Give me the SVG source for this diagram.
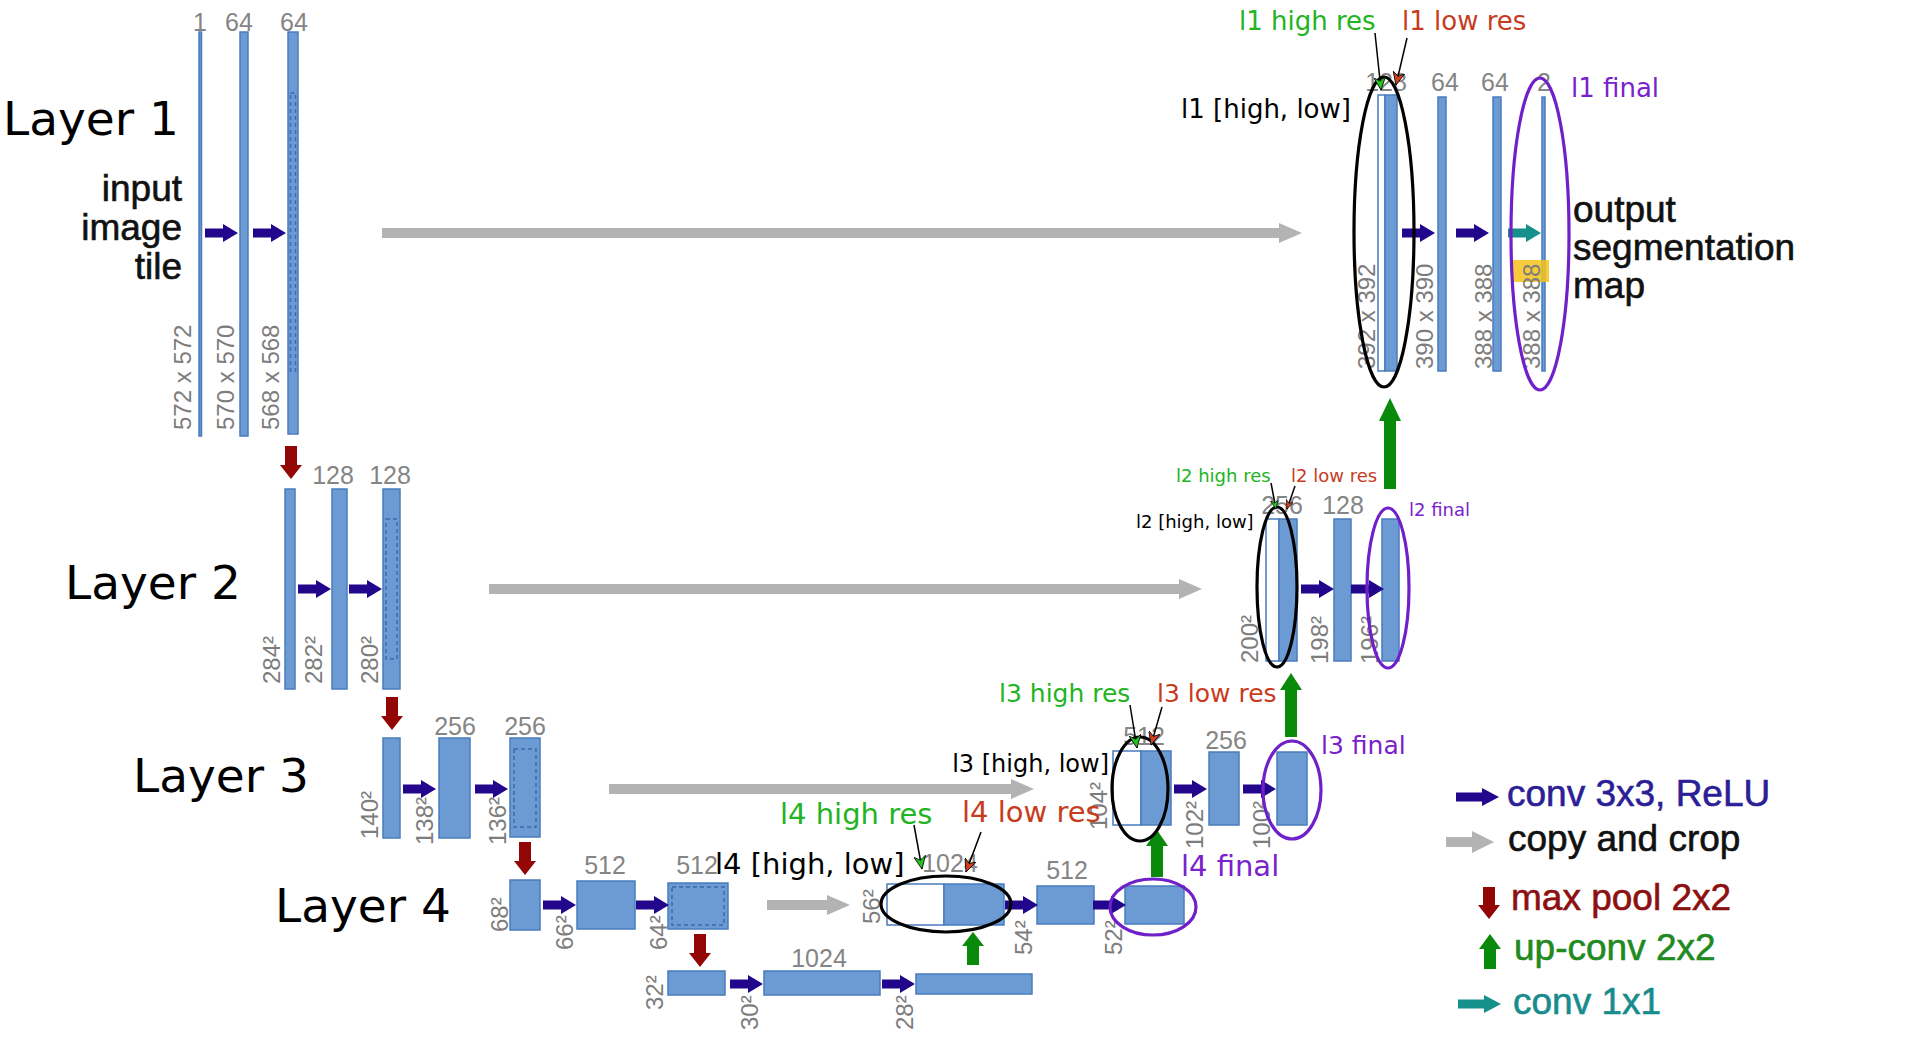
<svg xmlns="http://www.w3.org/2000/svg" xmlns:xlink="http://www.w3.org/1999/xlink" width="1908" height="1054" viewBox="0 0 1908 1054">
<style>
.bar{fill:#6b9bd2;stroke:#4a7bbd;stroke-width:1.5}
.cp{fill:#ffffff;stroke:#4a7bbd;stroke-width:1.5}
.dash{fill:none;stroke:#3d6bb0;stroke-width:1.5;stroke-dasharray:4 3}
.n{font-family:"Liberation Sans",Arial,sans-serif;font-size:25px;fill:#858585;text-anchor:middle}
.rl{font-family:"Liberation Sans",Arial,sans-serif;font-size:24px;fill:#7d7d7d}
.lay{font-family:"DejaVu Sans",sans-serif;font-size:47px;fill:#000}
.big{font-family:"Liberation Sans",Arial,sans-serif;font-size:37px;fill:#111;stroke:#111;stroke-width:0.6}
.a{font-family:"DejaVu Sans",sans-serif}
.g{fill:#22b422}.rd{fill:#c83c1e}.pu{fill:#7a22cc}.bk{fill:#000}
.conv{fill:#22068c}.gray{fill:#b3b3b3}.pool{fill:#930606}.up{fill:#0a8a0a}.teal{fill:#16908a}
.ebk{fill:none;stroke:#000;stroke-width:3.2}
.epu{fill:none;stroke:#7020c8;stroke-width:3.2}
.ptr{fill:none;stroke:#000;stroke-width:1.5}
</style>
<defs>
<path id="cv" d="M0,-4.5 H18 V-9 L33,0 L18,9 V4.5 H0 Z"/>
<path id="pl" d="M-6,0 H6 V19 H11 L0,33 L-11,19 H-6 Z"/>
<path id="upa" d="M0,0 L11,14 H6 V33 H-6 V14 H-11 Z"/>
<marker id="mg" markerUnits="userSpaceOnUse" markerWidth="14" markerHeight="12" refX="13" refY="6" orient="auto" viewBox="0 0 14 12"><path d="M0,0 L13,6 L0,12 L4,6 Z" fill="#22c422" stroke="#000" stroke-width="0.8"/></marker>
<marker id="mr" markerUnits="userSpaceOnUse" markerWidth="14" markerHeight="12" refX="13" refY="6" orient="auto" viewBox="0 0 14 12"><path d="M0,0 L13,6 L0,12 L4,6 Z" fill="#d0401e" stroke="#000" stroke-width="0.8"/></marker>
<marker id="mgs" markerUnits="userSpaceOnUse" markerWidth="10" markerHeight="8" refX="9" refY="4" orient="auto" viewBox="0 0 10 8"><path d="M0,0 L9,4 L0,8 L3,4 Z" fill="#22c422" stroke="#000" stroke-width="0.6"/></marker>
<marker id="mrs" markerUnits="userSpaceOnUse" markerWidth="10" markerHeight="8" refX="9" refY="4" orient="auto" viewBox="0 0 10 8"><path d="M0,0 L9,4 L0,8 L3,4 Z" fill="#d0401e" stroke="#000" stroke-width="0.6"/></marker>
</defs>
<rect width="1908" height="1054" fill="#fff"/>

<g id="layer-labels">
<text class="lay" x="3" y="135">Layer 1</text>
<text class="lay" x="65" y="599">Layer 2</text>
<text class="lay" x="133" y="792">Layer 3</text>
<text class="lay" x="275" y="922">Layer 4</text>
</g>

<g id="io-text">
<text class="big" text-anchor="end" x="182" y="201">input</text>
<text class="big" text-anchor="end" x="182" y="240">image</text>
<text class="big" text-anchor="end" x="182" y="279">tile</text>
<text class="big" x="1573" y="222">output</text>
<text class="big" x="1573" y="260">segmentation</text>
<text class="big" x="1573" y="298">map</text>
</g>

<g id="node-l1-enc">
<rect class="bar" x="199" y="32" width="2.5" height="404"/>
<rect class="bar" x="240" y="32" width="8" height="404"/>
<rect class="bar" x="288" y="32" width="10" height="402"/>
<rect class="dash" x="290.5" y="93" width="5" height="278"/>
<text class="n" x="200" y="31">1</text>
<text class="n" x="239" y="31">64</text>
<text class="n" x="294" y="31">64</text>
<text class="rl" transform="translate(191,430) rotate(-90)">572 x 572</text>
<text class="rl" transform="translate(234,430) rotate(-90)">570 x 570</text>
<text class="rl" transform="translate(279,430) rotate(-90)">568 x 568</text>
</g>

<g id="node-l2-enc">
<rect class="bar" x="285" y="489" width="10" height="200"/>
<rect class="bar" x="332" y="489" width="15" height="200"/>
<rect class="bar" x="383" y="489" width="17" height="200"/>
<rect class="dash" x="386" y="519" width="11" height="140"/>
<text class="n" x="333" y="484">128</text>
<text class="n" x="390" y="484">128</text>
<text class="rl" transform="translate(280,684) rotate(-90)">284²</text>
<text class="rl" transform="translate(322,684) rotate(-90)">282²</text>
<text class="rl" transform="translate(378,684) rotate(-90)">280²</text>
</g>

<g id="node-l3-enc">
<rect class="bar" x="383" y="738" width="17" height="100"/>
<rect class="bar" x="439" y="738" width="31" height="100"/>
<rect class="bar" x="510" y="738" width="30" height="99"/>
<rect class="dash" x="514" y="749" width="22" height="78"/>
<text class="n" x="455" y="735">256</text>
<text class="n" x="525" y="735">256</text>
<text class="rl" transform="translate(378,839) rotate(-90)">140²</text>
<text class="rl" transform="translate(433,845) rotate(-90)">138²</text>
<text class="rl" transform="translate(506,845) rotate(-90)">136²</text>
</g>

<g id="node-l4-enc">
<rect class="bar" x="510" y="880" width="30" height="50"/>
<rect class="bar" x="577" y="881" width="58" height="48"/>
<rect class="bar" x="668" y="883" width="60" height="46"/>
<rect class="dash" x="672" y="887" width="52" height="38"/>
<text class="n" x="605" y="874">512</text>
<text class="n" x="697" y="874">512</text>
<text class="rl" transform="translate(508,932) rotate(-90)">68²</text>
<text class="rl" transform="translate(573,950) rotate(-90)">66²</text>
<text class="rl" transform="translate(667,950) rotate(-90)">64²</text>
</g>

<g id="node-l5">
<rect class="bar" x="668" y="971" width="57" height="24"/>
<rect class="bar" x="764" y="971" width="116" height="24"/>
<rect class="bar" x="916" y="974" width="116" height="20"/>
<text class="n" x="819" y="967">1024</text>
<text class="rl" transform="translate(663,1010) rotate(-90)">32²</text>
<text class="rl" transform="translate(758,1030) rotate(-90)">30²</text>
<text class="rl" transform="translate(913,1030) rotate(-90)">28²</text>
</g>

<g id="node-l4-dec">
<rect class="cp" x="887" y="884" width="57" height="41"/>
<rect class="bar" x="944" y="884" width="60" height="41"/>
<rect class="bar" x="1037" y="886" width="57" height="38"/>
<rect class="bar" x="1125" y="886" width="59" height="38"/>
<text class="n" x="950" y="872">1024</text>
<text class="n" x="1067" y="879">512</text>
<text class="rl" transform="translate(880,924) rotate(-90)">56²</text>
<text class="rl" transform="translate(1032,955) rotate(-90)">54²</text>
<text class="rl" transform="translate(1122,955) rotate(-90)">52²</text>
</g>

<g id="node-l3-dec">
<rect class="cp" x="1113" y="751" width="28" height="74"/>
<rect class="bar" x="1141" y="751" width="30" height="74"/>
<rect class="bar" x="1209" y="752" width="30" height="73"/>
<rect class="bar" x="1277" y="752" width="30" height="73"/>
<text class="n" x="1144" y="745">512</text>
<text class="n" x="1226" y="749">256</text>
<text class="rl" transform="translate(1107,830) rotate(-90)">104²</text>
<text class="rl" transform="translate(1203,849) rotate(-90)">102²</text>
<text class="rl" transform="translate(1270,849) rotate(-90)">100²</text>
</g>

<g id="node-l2-dec">
<rect class="cp" x="1266" y="519" width="13" height="142"/>
<rect class="bar" x="1279" y="519" width="18" height="142"/>
<rect class="bar" x="1334" y="519" width="17" height="142"/>
<rect class="bar" x="1382" y="519" width="17" height="142"/>
<text class="n" x="1282" y="514">256</text>
<text class="n" x="1343" y="514">128</text>
<text class="rl" transform="translate(1258,663) rotate(-90)">200²</text>
<text class="rl" transform="translate(1328,664) rotate(-90)">198²</text>
<text class="rl" transform="translate(1378,664) rotate(-90)">196²</text>
</g>

<g id="node-l1-dec">
<rect class="cp" x="1378" y="95" width="7" height="276"/>
<rect class="bar" x="1385" y="95" width="12" height="276"/>
<rect class="bar" x="1438" y="97" width="8" height="274"/>
<rect class="bar" x="1493" y="97" width="8" height="274"/>
<rect class="bar" x="1542" y="97" width="3" height="274"/>
<rect x="1511" y="260" width="38" height="22" fill="#f6c21a" opacity="0.85"/>
<text class="n" x="1386" y="91">128</text>
<text class="n" x="1445" y="91">64</text>
<text class="n" x="1495" y="91">64</text>
<text class="n" x="1544" y="91">2</text>
<text class="rl" transform="translate(1375,369) rotate(-90)">392 x 392</text>
<text class="rl" transform="translate(1433,369) rotate(-90)">390 x 390</text>
<text class="rl" transform="translate(1492,369) rotate(-90)">388 x 388</text>
<text class="rl" transform="translate(1540,369) rotate(-90)">388 x 388</text>
</g>

<g id="connectors">
<use href="#cv" class="conv" x="205" y="233"/>
<use href="#cv" class="conv" x="253" y="233"/>
<use href="#cv" class="conv" x="298" y="589"/>
<use href="#cv" class="conv" x="349" y="589"/>
<use href="#cv" class="conv" x="403" y="789"/>
<use href="#cv" class="conv" x="475" y="789"/>
<use href="#cv" class="conv" x="543" y="905"/>
<use href="#cv" class="conv" x="636" y="905"/>
<use href="#cv" class="conv" x="730" y="984"/>
<use href="#cv" class="conv" x="882" y="984"/>
<use href="#cv" class="conv" x="1005" y="905"/>
<use href="#cv" class="conv" x="1093" y="905"/>
<use href="#cv" class="conv" x="1174" y="789"/>
<use href="#cv" class="conv" x="1243" y="789"/>
<use href="#cv" class="conv" x="1301" y="589"/>
<use href="#cv" class="conv" x="1351" y="589"/>
<use href="#cv" class="conv" x="1402" y="233"/>
<use href="#cv" class="conv" x="1456" y="233"/>
<use href="#cv" class="teal" x="1508" y="233"/>
<path class="gray" d="M382,228 H1279 V223 L1302,233 L1279,243 V238 H382 Z"/>
<path class="gray" d="M489,584 H1179 V579 L1202,589 L1179,599 V594 H489 Z"/>
<path class="gray" d="M609,784 H1011 V779 L1034,789 L1011,799 V794 H609 Z"/>
<path class="gray" d="M767,900 H827 V895 L850,905 L827,915 V910 H767 Z"/>
<use href="#pl" class="pool" x="291" y="446"/>
<use href="#pl" class="pool" x="392" y="697"/>
<use href="#pl" class="pool" x="525" y="842"/>
<use href="#pl" class="pool" x="700" y="934"/>
<use href="#upa" class="up" x="973" y="932"/>
<path class="up" d="M1157,830 L1168,846 H1163 V877 H1151 V846 H1146 Z"/>
<path class="up" d="M1291,673 L1302,690 H1297 V737 H1285 V690 H1280 Z"/>
<path class="up" d="M1390,398 L1401,421 H1396 V489 H1384 V421 H1379 Z"/>
</g>

<g id="annotations">
<ellipse class="ebk" cx="1384" cy="232" rx="30" ry="155" stroke-width="4"/>
<ellipse class="epu" cx="1540" cy="234" rx="29" ry="156" stroke-width="4"/>
<ellipse class="ebk" cx="1277" cy="587" rx="20" ry="80"/>
<ellipse class="epu" cx="1388" cy="588" rx="21" ry="80"/>
<ellipse class="ebk" cx="1140" cy="789" rx="28" ry="52"/>
<ellipse class="epu" cx="1292" cy="790" rx="29" ry="49"/>
<ellipse class="ebk" cx="946" cy="904" rx="65" ry="28"/>
<ellipse class="epu" cx="1153" cy="907" rx="43" ry="28"/>

<line class="ptr" x1="1375" y1="33" x2="1381" y2="90" marker-end="url(#mg)"/>
<line class="ptr" x1="1407" y1="38" x2="1396" y2="85" marker-end="url(#mr)"/>
<line class="ptr" x1="1271" y1="483" x2="1276" y2="509" stroke-width="1.2" marker-end="url(#mgs)"/>
<line class="ptr" x1="1295" y1="486" x2="1287" y2="509" stroke-width="1.2" marker-end="url(#mrs)"/>
<line class="ptr" x1="1130" y1="705" x2="1137" y2="748" marker-end="url(#mg)"/>
<line class="ptr" x1="1162" y1="707" x2="1151" y2="745" marker-end="url(#mr)"/>
<line class="ptr" x1="914" y1="825" x2="922" y2="869" marker-end="url(#mg)"/>
<line class="ptr" x1="981" y1="832" x2="966" y2="872" marker-end="url(#mr)"/>

<text class="a g" x="1239" y="30" font-size="26">l1 high res</text>
<text class="a rd" x="1402" y="30" font-size="26">l1 low res</text>
<text class="a bk" x="1181" y="118" font-size="26">l1 [high, low]</text>
<text class="a pu" x="1571" y="97" font-size="26">l1 final</text>

<text class="a g" x="1176" y="482" font-size="18">l2 high res</text>
<text class="a rd" x="1291" y="482" font-size="18">l2 low res</text>
<text class="a bk" x="1136" y="528" font-size="18">l2 [high, low]</text>
<text class="a pu" x="1409" y="516" font-size="18">l2 final</text>

<text class="a g" x="999" y="702" font-size="25">l3 high res</text>
<text class="a rd" x="1157" y="702" font-size="25">l3 low res</text>
<text class="a bk" x="1109" y="772" font-size="24" text-anchor="end">l3 [high, low]</text>
<text class="a pu" x="1321" y="754" font-size="25">l3 final</text>

<text class="a g" x="780" y="824" font-size="29">l4 high res</text>
<text class="a rd" x="962" y="822" font-size="29">l4 low res</text>
<text class="a bk" x="715" y="874" font-size="29">l4 [high, low]</text>
<text class="a pu" x="1181" y="876" font-size="29">l4 final</text>
</g>

<g id="legend">
<path class="conv" d="M1456,792.5 H1482 V788 L1499,797 L1482,806 V801.5 H1456 Z"/>
<text class="big" x="1507" y="806" style="fill:#2b1e96;stroke:#2b1e96">conv 3x3, ReLU</text>
<path class="gray" d="M1446,837 H1472 V831 L1494,842 L1472,853 V847 H1446 Z"/>
<text class="big" x="1508" y="851">copy and crop</text>
<path class="pool" d="M1483,887 H1495 V905 H1500 L1489,919 L1478,905 H1483 Z"/>
<text class="big" x="1511" y="910" style="fill:#8c1010;stroke:#8c1010">max pool 2x2</text>
<path class="up" d="M1490,934 L1501,949 H1496 V969 H1484 V949 H1479 Z"/>
<text class="big" x="1514" y="960" style="fill:#1f8a1f;stroke:#1f8a1f">up-conv 2x2</text>
<path class="teal" d="M1458,999.5 H1484 V995 L1501,1004 L1484,1013 V1008.5 H1458 Z"/>
<text class="big" x="1513" y="1014" style="fill:#188c8c;stroke:#188c8c">conv 1x1</text>
</g>
</svg>
